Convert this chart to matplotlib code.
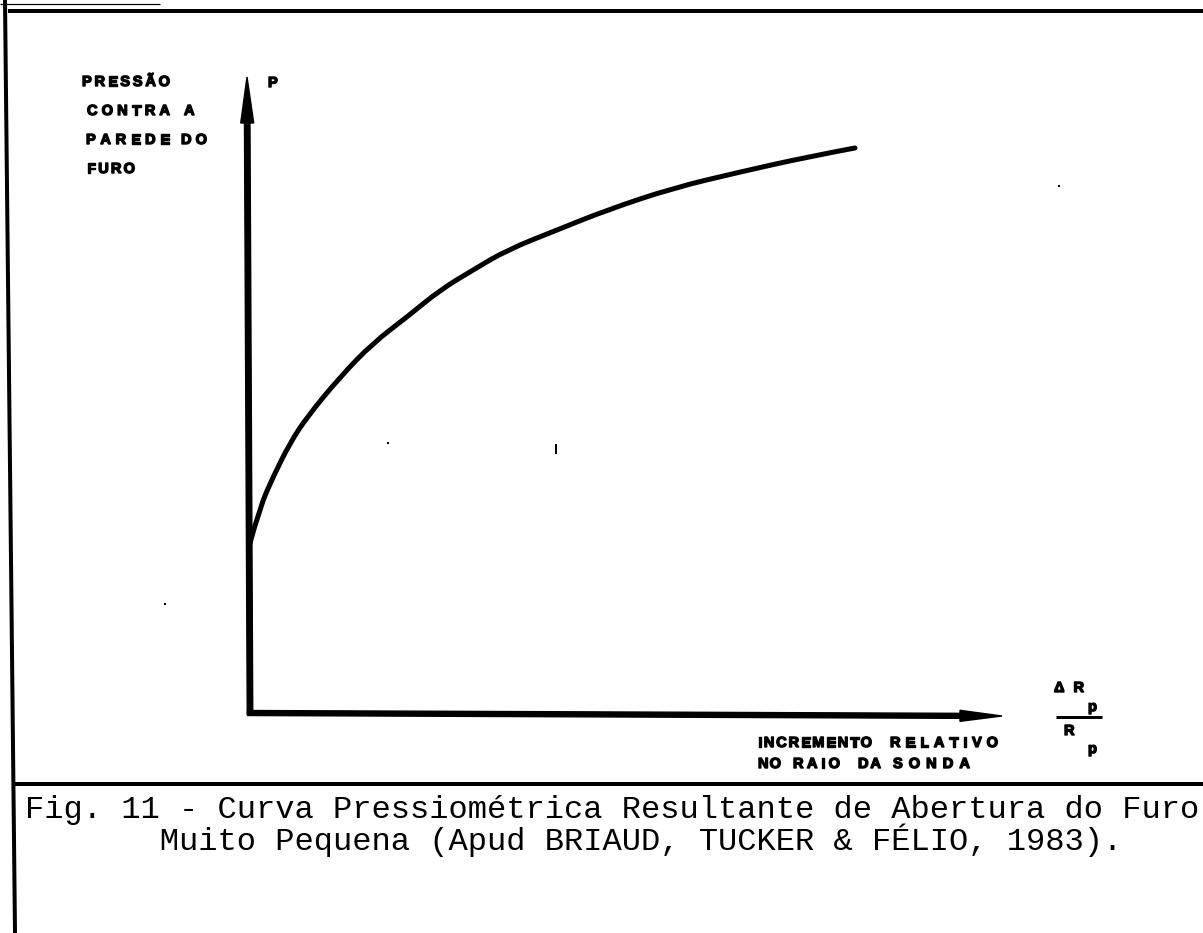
import matplotlib
matplotlib.use("Agg")
import matplotlib.pyplot as plt
import matplotlib.patheffects as pe
from matplotlib.path import Path
from matplotlib.patches import PathPatch

# Pressuremeter curve: relative increment of probe radius vs. pressure on the borehole wall
increment = [0.00, 0.10, 0.23, 0.40, 0.57, 0.90, 1.23, 1.57, 1.90, 2.23, 2.57,
             3.07, 3.57, 4.23, 4.90, 5.57, 6.05]
pressure = [1.70, 2.06, 2.36, 2.70, 2.96, 3.36, 3.70, 3.96, 4.23, 4.43, 4.63,
            4.83, 5.03, 5.25, 5.41, 5.56, 5.65]

y_label_lines = [["PRESSÃO"], ["CONTRA", "A"], ["PAREDE", "DO"], ["FURO"]]
x_label_words = [["INCREMENTO", "RELATIVO"], ["NO", "RAIO", "DA", "SONDA"]]
caption_lines = ["Fig. 11 - Curva Pressiométrica Resultante de Abertura do Furo",
                 "       Muito Pequena (Apud BRIAUD, TUCKER & FÉLIO, 1983)."]

W, H = 1203, 933
fig = plt.figure(figsize=(W / 100, H / 100), dpi=100)
fig.patch.set_facecolor("white")
renderer = fig.canvas.get_renderer()

# page layer in pixel units (y downwards) for frame rules and lettering
page = fig.add_axes([0, 0, 1, 1])
page.set_xlim(0, W)
page.set_ylim(H, 0)
page.axis("off")

px = 72 / 100  # points per pixel

# frame rules
page.plot([8, W], [11, 11], color="black", lw=4 * px, solid_capstyle="butt")
page.plot([0, 160], [4, 4], color="black", lw=1.2 * px, solid_capstyle="butt")
page.plot([5, 15], [0, H], color="black", lw=4 * px, solid_capstyle="butt")
page.plot([14, W], [784, 784], color="black", lw=4 * px, solid_capstyle="butt")

# chart layer: origin of the axes at pixel (250, 713), 100 px per unit
chart = fig.add_axes([250 / W, (H - 713) / H, 752 / W, 636 / H])
chart.set_xlim(0, 7.52)
chart.set_ylim(0, 6.36)
chart.axis("off")

# axes drawn as arrows (data units are isotropic here)
chart.arrow(0, -0.02, -0.03, 6.38, width=0.055, head_width=0.13, head_length=0.46,
            length_includes_head=True, color="black", clip_on=False)
chart.arrow(-0.025, 0, 7.545, -0.03, width=0.05, head_width=0.11, head_length=0.42,
            length_includes_head=True, color="black", clip_on=False)

# smooth pressure curve through the read points (quadratic Bezier rendering)
pts = list(zip(increment, pressure))
verts = [pts[0]]
codes = [Path.MOVETO]
for i in range(1, len(pts) - 1):
    mid = ((pts[i][0] + pts[i + 1][0]) / 2, (pts[i][1] + pts[i + 1][1]) / 2)
    end = mid if i < len(pts) - 2 else pts[-1]
    verts += [pts[i], end]
    codes += [Path.CURVE3, Path.CURVE3]
chart.add_patch(PathPatch(Path(verts, codes), facecolor="none", edgecolor="black",
                          lw=5 * px, capstyle="round", joinstyle="round",
                          clip_on=False))

# hand lettering: each word is spread letter by letter over its span
heavy = [pe.withStroke(linewidth=1.0, foreground="black")]
letter = dict(family="Liberation Sans", weight="bold", fontsize=10.5, color="black",
              path_effects=heavy)


def lettering(x0, x1, y, word):
    texts = [page.text(0, y, ch, ha="left", va="center", **letter) for ch in word]
    widths = [t.get_window_extent(renderer).width for t in texts]
    if len(word) > 1 and x1 is not None:
        track = (x1 - x0 - sum(widths)) / (len(word) - 1)
    else:
        track = 1.0
    x = x0
    for t, w in zip(texts, widths):
        t.set_position((x, y))
        x += w + track


y_label_spans = [[(82, 170)], [(87, 170), (184, 198)], [(86, 170), (181, 207)],
                 [(87, 135)]]
for i, (words, spans) in enumerate(zip(y_label_lines, y_label_spans)):
    for w, (a, b) in zip(words, spans):
        lettering(a, b, 82 + 29 * i, w)
lettering(268, None, 83, "P")

x_label_spans = [[(758, 872), (890, 998)],
                 [(758, 781), (793, 840), (858, 881), (893, 970)]]
word_y = [743, 764]
for words, spans, y in zip(x_label_words, x_label_spans, word_y):
    for w, (a, b) in zip(words, spans):
        lettering(a, b, y, w)

# ΔRp / Rp
lettering(1054, 1084, 688, "ΔR")
lettering(1088, None, 707, "p")
page.plot([1056, 1102], [717, 717], color="black", lw=3 * px, solid_capstyle="butt")
lettering(1064, None, 731, "R")
lettering(1088, None, 749, "p")

# small specks of the print
page.plot([1059, 388, 165], [186, 443, 604], "s", color="black", ms=1.6, mew=0)
page.plot([556, 556], [445, 453], color="black", lw=2 * px)

# caption in typewriter face
cap = dict(family="Liberation Mono", fontsize=23.1, color="black")
page.text(25, 818, caption_lines[0], ha="left", va="baseline", **cap)
page.text(25, 850, caption_lines[1], ha="left", va="baseline", **cap)

fig.savefig("out.png", dpi=100, facecolor="white")
